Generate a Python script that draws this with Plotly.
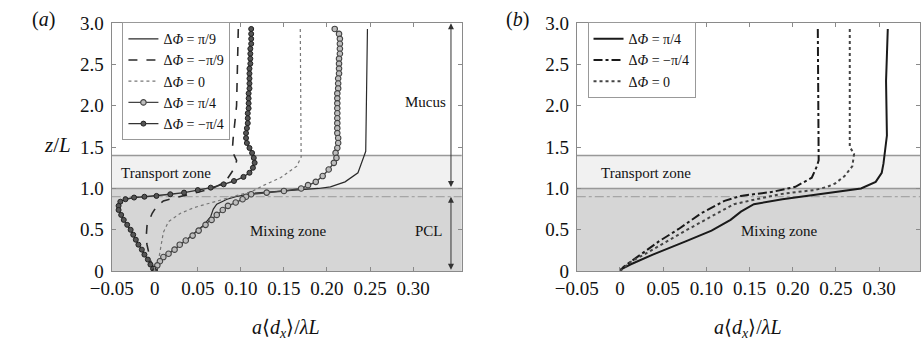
import plotly.graph_objects as go

# ---------------- Panel (a) data ----------------
z_a_pi9 = [2.93, 2.0, 1.6, 1.45, 1.42, 1.30, 1.19, 1.08, 1.02, 1.0, 0.97, 0.94, 0.90, 0.87, 0.81, 0.75, 0.66, 0.56, 0.46, 0.36, 0.26, 0.19, 0.10, 0.0]
x_a_pi9 = [0.247, 0.246, 0.245, 0.245, 0.244, 0.240, 0.236, 0.221, 0.204, 0.190, 0.150, 0.112, 0.094, 0.084, 0.072, 0.068, 0.065, 0.057, 0.046, 0.035, 0.022, 0.013, 0.006, 0.0]

z_a_mpi9 = [2.93, 2.5, 2.0, 1.6, 1.45, 1.34, 1.27, 1.19, 1.08, 1.0, 0.94, 0.89, 0.85, 0.78, 0.70, 0.55, 0.40, 0.32, 0.20, 0.13, 0.0]
x_a_mpi9 = [0.097, 0.096, 0.095, 0.091, 0.090, 0.095, 0.094, 0.089, 0.082, 0.067, 0.045, 0.025, 0.010, 0.002, -0.003, -0.009, -0.010, -0.009, -0.007, -0.005, 0.0]

z_a_zero = [2.93, 1.5, 1.38, 1.27, 1.13, 1.04, 0.96, 0.92, 0.87, 0.82, 0.77, 0.70, 0.60, 0.47, 0.30, 0.17, 0.0]
x_a_zero = [0.169, 0.170, 0.170, 0.165, 0.146, 0.127, 0.112, 0.097, 0.080, 0.062, 0.046, 0.030, 0.016, 0.010, 0.007, 0.005, 0.0]

z_a_pi4 = [2.93, 2.87, 2.81, 2.75, 2.69, 2.63, 2.57, 2.51, 2.45, 2.39, 2.33, 2.27, 2.21, 2.15, 2.09, 2.03,
           1.97, 1.91, 1.85, 1.79, 1.73, 1.67, 1.61, 1.55, 1.49, 1.43, 1.37, 1.31, 1.23, 1.15, 1.08, 1.04,
           1.0, 0.97, 0.95, 0.93, 0.90, 0.87, 0.83, 0.79, 0.74, 0.68, 0.62, 0.56, 0.49, 0.43, 0.37, 0.32,
           0.26, 0.21, 0.17, 0.12, 0.07, 0.02]
x_a_pi4 = [0.209, 0.214, 0.215, 0.215, 0.215, 0.215, 0.214, 0.214, 0.214, 0.214, 0.213, 0.213, 0.213, 0.212, 0.212, 0.212,
           0.212, 0.212, 0.212, 0.212, 0.212, 0.212, 0.213, 0.213, 0.212, 0.210, 0.211, 0.208, 0.202, 0.195, 0.187, 0.178,
           0.170, 0.150, 0.130, 0.112, 0.106, 0.102, 0.094, 0.085, 0.079, 0.072, 0.066, 0.059, 0.051, 0.044, 0.036, 0.029,
           0.023, 0.016, 0.010, 0.006, 0.003, 0.0]

z_a_mpi4 = [2.93, 2.87, 2.81, 2.75, 2.69, 2.63, 2.57, 2.51, 2.45, 2.39, 2.33, 2.27, 2.21, 2.15, 2.09, 2.03,
            1.97, 1.91, 1.85, 1.79, 1.73, 1.67, 1.61, 1.55, 1.49, 1.43, 1.37, 1.31, 1.25, 1.19, 1.14, 1.09,
            1.05, 1.01, 0.98, 0.95, 0.93, 0.91, 0.90, 0.89, 0.87, 0.84, 0.79, 0.74, 0.68, 0.62, 0.56, 0.50,
            0.44, 0.38, 0.32, 0.26, 0.20, 0.14, 0.08, 0.03, 0.0]
x_a_mpi4 = [0.112, 0.112, 0.112, 0.112, 0.111, 0.111, 0.111, 0.111, 0.110, 0.110, 0.110, 0.110, 0.110, 0.109, 0.109, 0.109,
            0.109, 0.108, 0.108, 0.108, 0.107, 0.106, 0.106, 0.107, 0.110, 0.113, 0.115, 0.116, 0.114, 0.110, 0.103, 0.092,
            0.080, 0.065, 0.050, 0.034, 0.018, 0.002, -0.012, -0.024, -0.034, -0.040, -0.042, -0.042, -0.039, -0.036, -0.032, -0.028,
            -0.025, -0.022, -0.019, -0.015, -0.012, -0.008, -0.005, -0.002, 0.0]

# ---------------- Panel (b) data ----------------
z_b_pi4 = [2.93, 2.3, 1.64, 1.45, 1.30, 1.19, 1.08, 1.0, 0.95, 0.92, 0.87, 0.81, 0.72, 0.62, 0.49, 0.36, 0.20, 0.08, 0.015]
x_b_pi4 = [0.310, 0.308, 0.309, 0.307, 0.305, 0.303, 0.296, 0.279, 0.245, 0.226, 0.188, 0.155, 0.140, 0.128, 0.106, 0.076, 0.038, 0.012, 0.0]

z_b_mpi4 = [2.93, 1.45, 1.34, 1.27, 1.13, 1.02, 0.96, 0.91, 0.85, 0.70, 0.51, 0.36, 0.17, 0.05, 0.0]
x_b_mpi4 = [0.229, 0.230, 0.230, 0.228, 0.222, 0.203, 0.177, 0.140, 0.121, 0.094, 0.068, 0.045, 0.019, 0.004, 0.0]

z_b_zero = [2.93, 1.5, 1.42, 1.27, 1.15, 1.06, 1.02, 0.98, 0.96, 0.93, 0.87, 0.81, 0.68, 0.49, 0.26, 0.11, 0.0]
x_b_zero = [0.266, 0.266, 0.271, 0.269, 0.260, 0.249, 0.240, 0.225, 0.207, 0.185, 0.158, 0.132, 0.109, 0.076, 0.038, 0.012, 0.0]

x_tickvals = [-0.05, 0, 0.05, 0.10, 0.15, 0.20, 0.25, 0.30]
x_ticktext = ["\u22120.05", "0", "0.05", "0.10", "0.15", "0.20", "0.25", "0.30"]
y_tickvals = [0, 0.5, 1.0, 1.5, 2.0, 2.5, 3.0]
y_ticktext = ["0", "0.5", "1.0", "1.5", "2.0", "2.5", "3.0"]

FONT = "Liberation Serif"
W, H = 921, 346

fig = go.Figure()

def leg(s):
    return "\u0394<i>\u03a6</i> = " + s

# panel a traces
fig.add_trace(go.Scatter(x=x_a_pi9, y=z_a_pi9, mode="lines", name=leg("\u03c0/9"),
                         line=dict(color="#2a2a2a", width=1.2), xaxis="x", yaxis="y", legend="legend"))
fig.add_trace(go.Scatter(x=x_a_mpi9, y=z_a_mpi9, mode="lines", name=leg("\u2212\u03c0/9"),
                         line=dict(color="#2a2a2a", width=1.6, dash="dash"), xaxis="x", yaxis="y", legend="legend"))
fig.add_trace(go.Scatter(x=x_a_zero, y=z_a_zero, mode="lines", name=leg("0"),
                         line=dict(color="#777777", width=1.2, dash="dot"), xaxis="x", yaxis="y", legend="legend"))
fig.add_trace(go.Scatter(x=x_a_pi4, y=z_a_pi4, mode="lines+markers", name=leg("\u03c0/4"),
                         line=dict(color="#444444", width=1.4),
                         marker=dict(symbol="circle", size=5.5, color="#bdbdbd", line=dict(color="#444444", width=1.1)),
                         xaxis="x", yaxis="y", legend="legend"))
fig.add_trace(go.Scatter(x=x_a_mpi4, y=z_a_mpi4, mode="lines+markers", name=leg("\u2212\u03c0/4"),
                         line=dict(color="#333333", width=1.4),
                         marker=dict(symbol="circle", size=5, color="#555555", line=dict(color="#222222", width=1)),
                         xaxis="x", yaxis="y", legend="legend"))

# panel b traces
fig.add_trace(go.Scatter(x=x_b_pi4, y=z_b_pi4, mode="lines", name=leg("\u03c0/4"),
                         line=dict(color="#1a1a1a", width=2), xaxis="x2", yaxis="y2", legend="legend2"))
fig.add_trace(go.Scatter(x=x_b_mpi4, y=z_b_mpi4, mode="lines", name=leg("\u2212\u03c0/4"),
                         line=dict(color="#1a1a1a", width=2, dash="dashdot"), xaxis="x2", yaxis="y2", legend="legend2"))
fig.add_trace(go.Scatter(x=x_b_zero, y=z_b_zero, mode="lines", name=leg("0"),
                         line=dict(color="#444444", width=2, dash="dot"), xaxis="x2", yaxis="y2", legend="legend2"))

shapes = []
for xr, yr in [("x", "y"), ("x2", "y2")]:
    xd = xr + " domain"
    shapes += [
        dict(type="rect", xref=xd, yref=yr, x0=0, x1=1, y0=0, y1=1.0, fillcolor="#d6d6d6", line=dict(width=0), layer="below"),
        dict(type="rect", xref=xd, yref=yr, x0=0, x1=1, y0=1.0, y1=1.4, fillcolor="#f1f1f1", line=dict(width=0), layer="below"),
        dict(type="line", xref=xd, yref=yr, x0=0, x1=1, y0=1.0, y1=1.0, line=dict(color="#999999", width=1.5), layer="below"),
        dict(type="line", xref=xd, yref=yr, x0=0, x1=1, y0=1.4, y1=1.4, line=dict(color="#999999", width=1.5), layer="below"),
        dict(type="line", xref=xd, yref=yr, x0=0, x1=1, y0=0.9, y1=0.9, line=dict(color="#999999", width=1, dash="dashdot"), layer="below"),
    ]

ann = []
def txt(x, y, s, xref="x", yref="y", size=15, xanchor="center", yanchor="middle"):
    ann.append(dict(x=x, y=y, xref=xref, yref=yref, text=s, showarrow=False,
                    font=dict(family=FONT, size=size, color="#111111"), xanchor=xanchor, yanchor=yanchor))

txt(-0.041, 1.19, "Transport zone", xanchor="left")
txt(0.155, 0.48, "Mixing zone")
txt(0.314, 2.05, "Mucus")
txt(0.319, 0.48, "PCL")
txt(-0.024, 1.19, "Transport zone", xref="x2", yref="y2", xanchor="left")
txt(0.185, 0.48, "Mixing zone", xref="x2", yref="y2")

# arrows in panel a
for (ya, yb) in [(1.0, 3.0), (0.0, 0.9)]:
    ann.append(dict(x=0.344, y=yb, ax=0.344, ay=ya, xref="x", yref="y", axref="x", ayref="y",
                    text="", showarrow=True, arrowhead=2, arrowsize=1.2, arrowwidth=1,
                    arrowside="end+start", arrowcolor="#333333"))

# panel labels and axis titles
def ptxt(px, py, s, size=19):
    ann.append(dict(x=px / W, y=1 - py / H, xref="paper", yref="paper", text=s, showarrow=False,
                    font=dict(family=FONT, size=size, color="#111111"), xanchor="center", yanchor="middle"))

ptxt(22, 10, "(<i>a</i>)", size=20)
ptxt(508, 10, "(<i>b</i>)", size=20)
ptxt(36, 144, "<i>z</i>/<i>L</i>", size=21)
xt = "<i>a</i>\u27e8<i>d</i><sub><i>x</i></sub>\u27e9/<i>\u03bbL</i>"
ptxt(271, 339, xt, size=20)
ptxt(745, 339, xt, size=20)

ax_common = dict(showgrid=False, zeroline=False, showline=True, mirror="ticks", linecolor="#8a8a8a",
                 linewidth=1.2, ticks="inside", ticklen=4, tickcolor="#8a8a8a",
                 tickfont=dict(family=FONT, size=19, color="#111111"))

ydom = [68 / H, 1 - 14 / H]
fig.update_layout(
    width=W, height=H, margin=dict(l=0, r=0, t=0, b=0),
    paper_bgcolor="white", plot_bgcolor="white",
    font=dict(family=FONT),
    xaxis=dict(domain=[92 / W, 451 / W], range=[-0.05, 0.3565], tickvals=x_tickvals, ticktext=x_ticktext, anchor="y", **ax_common),
    yaxis=dict(domain=ydom, range=[0, 3.0], tickvals=y_tickvals, ticktext=y_ticktext, anchor="x", ticklabelstandoff=3, **ax_common),
    xaxis2=dict(domain=[569 / W, 1.0], range=[-0.05, 0.3473], tickvals=x_tickvals, ticktext=x_ticktext, anchor="y2", **ax_common),
    yaxis2=dict(domain=ydom, range=[0, 3.0], tickvals=y_tickvals, ticktext=y_ticktext, anchor="x2", ticklabelstandoff=3, **ax_common),
    shapes=shapes, annotations=ann,
    showlegend=True,
    legend=dict(x=103 / W, y=1 - 13 / H, xanchor="left", yanchor="top", bgcolor="white",
                bordercolor="#999999", borderwidth=1, itemwidth=30,
                font=dict(family=FONT, size=14, color="#111111"), tracegroupgap=0),
    legend2=dict(x=580 / W, y=1 - 13 / H, xanchor="left", yanchor="top", bgcolor="white",
                 bordercolor="#999999", borderwidth=1, itemwidth=30,
                 font=dict(family=FONT, size=14, color="#111111"), tracegroupgap=0),
)

fig.write_html("out.html")
